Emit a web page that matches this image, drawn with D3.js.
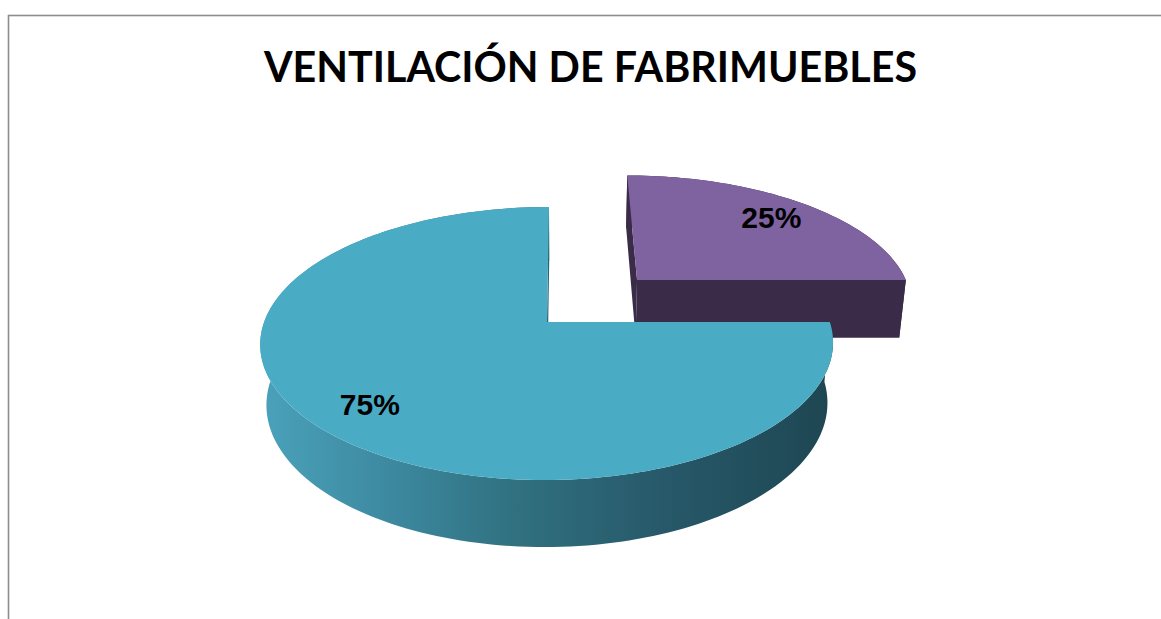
<!DOCTYPE html>
<html>
<head>
<meta charset="utf-8">
<script src="https://cdn.jsdelivr.net/npm/d3@7"></script>
<style>
  body { margin: 0; background: #fff; }
</style>
</head>
<body>
<div id="chart"></div>
<script>
// ---- data
const title = "VENTILACIÓN DE FABRIMUEBLES";
const categories = ["Categoría 1", "Categoría 2"];
const values = [25, 75];
const labels = ["25%", "75%"];

// ---- look
const topColor = d3.scaleOrdinal().domain(categories).range(["#7f62a0", "#4aabc5"]);
const sideColor = d3.scaleOrdinal().domain(categories).range(["#3a2b48", "#2a6373"]);
const explode = [0.47, 0];   // in pie radii
const depth = 0.245;         // pie thickness, in pie radii
const labelRadius = 0.8;

const W = 1161, H = 619;

// simple perspective camera for the 3d pie (radius 1 in world units)
const cam = { f: 1584, D: 5.6, tilt: 28.07 * Math.PI / 180, xc: 0.052, cx: 561.7, cy: 322 };
const ct = Math.cos(cam.tilt), st = Math.sin(cam.tilt);
const camPos = [cam.xc, cam.D * st, cam.D * ct];

function project(X, Y, Z) {
    const yp = Y * ct - Z * st;
    const zp = Y * st + Z * ct;
    const k = cam.f / (cam.D - zp);
    return [cam.cx + k * (X - cam.xc), cam.cy - k * yp];
}

const svg = d3.select("#chart").append("svg")
    .attr("width", W)
    .attr("height", H);

const defs = svg.append("defs");

// chart border
svg.append("rect")
    .attr("x", 8.5)
    .attr("y", 15.5)
    .attr("width", 1300)
    .attr("height", 800)
    .attr("fill", "none")
    .attr("stroke", "#8c8c8c")
    .attr("stroke-width", 1.6);

svg.append("text")
    .attr("x", 590.5)
    .attr("y", 82)
    .attr("text-anchor", "middle")
    .attr("font-family", "Lato, 'Open Sans', sans-serif")
    .attr("font-weight", 700)
    .attr("font-size", "42px")
    .attr("textLength", 653)
    .attr("lengthAdjust", "spacingAndGlyphs")
    .attr("fill", "#000")
    .text(title);

const pie = d3.pie().sort(null).value(d => d.value);
const arcs = pie(categories.map((c, i) => ({ name: c, value: values[i], label: labels[i], explode: explode[i] })));

const line = d3.line();
const gPie = svg.append("g");

function rimPoints(a0, a1, ox, oz, Y) {
    const n = Math.max(8, Math.ceil((a1 - a0) / (Math.PI * 2) * 240));
    const pts = [];
    for (let j = 0; j <= n; j++) {
        const a = a0 + (a1 - a0) * j / n;
        pts.push(project(ox + Math.sin(a), Y, oz - Math.cos(a)));
    }
    return pts;
}

function visible(n, p) {
    return n[0] * (camPos[0] - p[0]) + n[1] * (camPos[1] - p[1]) + n[2] * (camPos[2] - p[2]) > 0;
}

// back slice first: the exploded purple one sits behind the big slice
const order = arcs.slice().sort((a, b) => b.data.explode - a.data.explode);

order.forEach((d, i) => {
    const mid = (d.startAngle + d.endAngle) / 2;
    const ox = d.data.explode * Math.sin(mid);
    const oz = -d.data.explode * Math.cos(mid);
    const top = rimPoints(d.startAngle, d.endAngle, ox, oz, 0);
    const bot = rimPoints(d.startAngle, d.endAngle, ox, oz, -depth);

    // outer side
    let sideFill = sideColor(d.data.name);
    if (d.data.explode === 0) {
        const xs = top.map(p => p[0]);
        const gid = "side" + i;
        const grad = defs.append("linearGradient")
            .attr("id", gid)
            .attr("gradientUnits", "userSpaceOnUse")
            .attr("x1", d3.min(xs)).attr("y1", 0)
            .attr("x2", d3.max(xs)).attr("y2", 0);
        [["0", "#4aa2ba"], ["0.2", "#3e8ca3"], ["0.45", "#30707f"], ["0.7", "#27596a"], ["1", "#1e4652"]]
            .forEach(s => grad.append("stop").attr("offset", s[0]).attr("stop-color", s[1]));
        sideFill = "url(#" + gid + ")";
    }
    gPie.append("path")
        .attr("d", line(top.concat(bot.slice().reverse())) + "Z")
        .attr("fill", sideFill);

    // cut faces
    const faces = [
        { a: d.startAngle, n: [-Math.cos(d.startAngle), 0, -Math.sin(d.startAngle)] },
        { a: d.endAngle, n: [Math.cos(d.endAngle), 0, Math.sin(d.endAngle)] }
    ];
    faces.forEach(f => {
        const ex = ox + 0.5 * Math.sin(f.a), ez = oz - 0.5 * Math.cos(f.a);
        if (!visible(f.n, [ex, -depth / 2, ez])) return;
        const q = [
            project(ox, 0, oz),
            project(ox + Math.sin(f.a), 0, oz - Math.cos(f.a)),
            project(ox + Math.sin(f.a), -depth, oz - Math.cos(f.a)),
            project(ox, -depth, oz)
        ];
        gPie.append("path")
            .attr("d", line(q) + "Z")
            .attr("fill", sideColor(d.data.name));
    });

    // top face
    gPie.append("path")
        .attr("d", line([project(ox, 0, oz)].concat(top)) + "Z")
        .attr("fill", topColor(d.data.name));
});

// labels
arcs.forEach(d => {
    const mid = (d.startAngle + d.endAngle) / 2;
    const r = d.data.explode + labelRadius;
    const p = project(r * Math.sin(mid), 0, -r * Math.cos(mid));
    svg.append("text")
        .attr("x", p[0])
        .attr("y", p[1])
        .attr("dy", "0.36em")
        .attr("text-anchor", "middle")
        .attr("font-family", "'Liberation Sans', Arial, sans-serif")
        .attr("font-weight", 700)
        .attr("font-size", "30px")
        .attr("fill", "#000")
        .text(d.data.label);
});
</script>
</body>
</html>
